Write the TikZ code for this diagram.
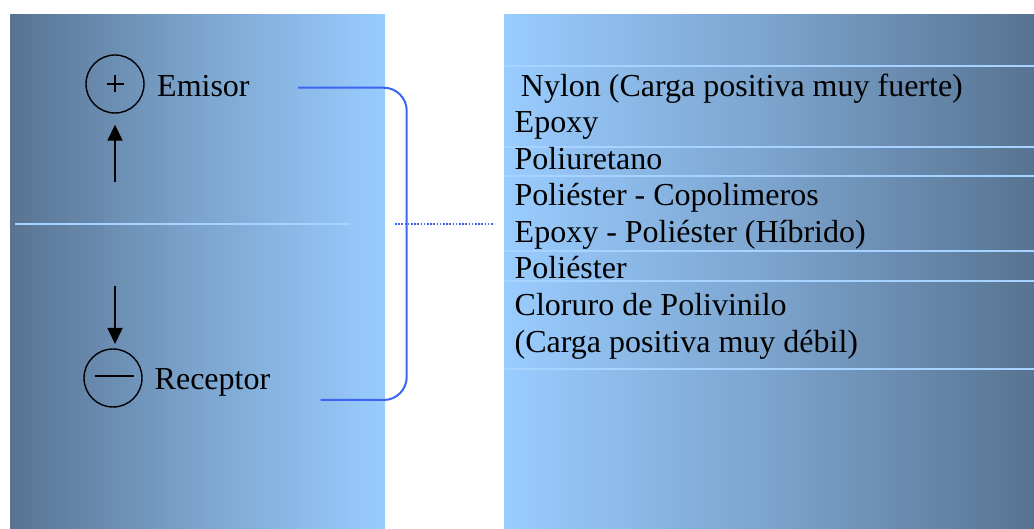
\documentclass[tikz,border=0pt]{standalone}
\usepackage{fontspec}
\setmainfont{Liberation Serif}
\usetikzlibrary{arrows.meta}
\definecolor{paneldark}{HTML}{587391}
\definecolor{panellight}{HTML}{99CCFF}
\definecolor{rulelight}{HTML}{A6D3FF}
\definecolor{bracketblue}{HTML}{3A66F2}
\tikzset{
  charge/.style={draw=black, line width=1.4pt, circle, minimum size=58pt, inner sep=0pt},
  label text/.style={anchor=base west, inner sep=0pt, font=\fontsize{32}{36}\selectfont},
  list text/.style={anchor=base west, inner sep=0pt, font=\fontsize{32}{36}\selectfont},
  flow/.style={line width=1.6pt, -{Triangle[length=16pt,width=15pt]}},
  bracket/.style={draw=bracketblue, line width=2pt, rounded corners=23pt},
  row rule/.style={draw=rulelight, line width=1.6pt},
}
\begin{document}
\begin{tikzpicture}[x=1pt, y=-1pt]
  \useasboundingbox (0,0) rectangle (1034,529);
  % shaded panels
  \shade[left color=paneldark, right color=panellight, middle color=paneldark!45!panellight]
    (10,15) rectangle (385,529);
  \shade[left color=panellight, right color=paneldark, middle color=paneldark!45!panellight]
    (504,15) rectangle (1034,529);
  % divider across the left panel
  \draw[draw=rulelight, line width=1.4pt] (15,224) -- (350,224);
  % row rules on the right panel
  \foreach \yy in {66,147,176,251,281,369}
    \draw[row rule] (504,\yy) -- (1034,\yy);

  % emitter and receiver
  \node[charge] (plus) at (115,84) {};
  \draw[line width=1.1pt] (106.5,84) -- (123.5,84) (115,75.5) -- (115,92.5);
  \node[label text] (emisor) at (157,96.5) {Emisor};
  \node[charge] (minus) at (113,378) {};
  \draw[line width=1.8pt] (95,376) -- (134,376);
  \node[label text] (receptor) at (154.5,389) {Receptor};

  \coordinate (upstart) at (115,182);
  \coordinate (downstart) at (115,286);
  \coordinate (downend) at (115,344);
  \draw[flow, shorten >=11pt] (upstart) -- (plus.south);
  \draw[flow] (downstart) -- (downend);

  % bracket joining the two ends to the list
  \coordinate (btop) at (298,87.7);
  \coordinate (bbot) at (320.7,400);
  \draw[bracket] (btop) -- (406.7,87.7) -- (406.7,400) -- (bbot);
  \coordinate (dotstart) at (395,224);
  \coordinate (dotend) at (493,224);
  \draw[bracketblue, line width=1.6pt, dash pattern=on 1.6pt off 1.6pt] (dotstart) -- (dotend);

  % triboelectric list
  \node[list text] (l1) at (520.7,96.5) {Nylon (Carga positiva muy fuerte)};
  \node[list text] (l2) at (514.5,133) {Epoxy};
  \node[list text] (l3) at (514.5,169.5) {Poliuretano};
  \node[list text] (l4) at (514.5,206) {Poliéster - Copolimeros};
  \node[list text] (l5) at (514.5,242.5) {Epoxy - Poliéster (Híbrido)};
  \node[list text] (l6) at (514.5,279) {Poliéster};
  \node[list text] (l7) at (514.5,316) {Cloruro de Polivinilo};
  \node[list text] (l8) at (514.5,352.5) {(Carga positiva muy débil)};
\end{tikzpicture}
\end{document}
